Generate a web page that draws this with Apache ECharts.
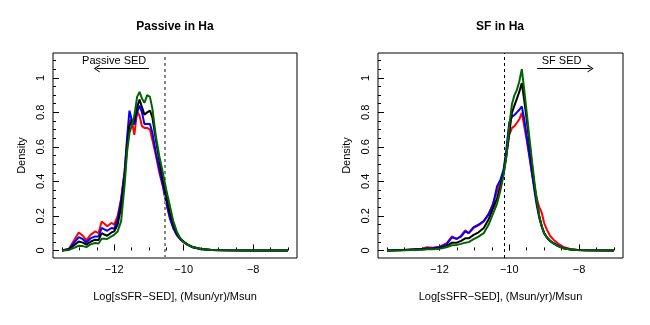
<!DOCTYPE html>
<html>
<head>
<meta charset="utf-8">
<script src="https://cdn.jsdelivr.net/npm/echarts@6/dist/echarts.min.js"></script>
<style>html,body{margin:0;padding:0;background:#fff}#c{width:650px;height:325px}</style>
</head>
<body>
<div id="c"></div>
<script>
// ---- data ----
const panelTitles = ['Passive in Ha', 'SF in Ha'];
const xAxisName = 'Log[sSFR\u2212SED], (Msun/yr)/Msun';
const yAxisName = 'Density';
const xMajorTicks = [-12, -10, -8];
const xMinorTicks = [-13.5,-13,-12.5,-12,-11.5,-11,-10.5,-10,-9.5,-9,-8.5,-8,-7.5,-7];
const yMajorTicks = [0, 0.2, 0.4, 0.6, 0.8, 1];
const yMinorTicks = [0,0.05,0.1,0.15,0.2,0.25,0.3,0.35,0.4,0.45,0.5,0.55,0.6,0.65,0.7,0.75,0.8,0.85,0.9,0.95,1,1.05,1.1];

const passiveX = [-13.5,-13.3,-13.15,-13.02,-12.9,-12.8,-12.68,-12.55,-12.45,-12.36,-12.28,-12.2,-12.08,-12.0,
  -11.9,-11.8,-11.7,-11.63,-11.56,-11.5,-11.42,-11.34,-11.27,-11.2,-11.13,-11.05,-10.97,-10.9,
  -10.8,-10.7,-10.6,-10.5,-10.4,-10.3,-10.2,-10.1,-10.0,-9.9,-9.75,-9.5,-9.2,-8.8,-8.0,-7.0];
const passiveRed = [0,0.01,0.06,0.104,0.085,0.058,0.09,0.11,0.1,0.168,0.155,0.14,0.159,0.15,
  0.2,0.3,0.46,0.62,0.75,0.76,0.67,0.805,0.78,0.72,0.71,0.71,0.7,0.64,
  0.55,0.45,0.37,0.27,0.19,0.13,0.09,0.065,0.048,0.035,0.02,0.009,0.003,0.001,0,0];
const passiveBlue = [0,0.008,0.045,0.077,0.065,0.046,0.07,0.081,0.08,0.13,0.122,0.114,0.13,0.126,
  0.18,0.29,0.45,0.65,0.81,0.76,0.73,0.8,0.84,0.8,0.733,0.733,0.733,0.68,
  0.565,0.47,0.38,0.28,0.19,0.13,0.09,0.065,0.05,0.035,0.018,0.007,0.002,0.001,0,0];
const passiveBlack = [0,0.005,0.03,0.052,0.045,0.033,0.05,0.062,0.06,0.1,0.092,0.085,0.104,0.11,
  0.15,0.25,0.42,0.6,0.72,0.75,0.75,0.83,0.874,0.83,0.787,0.8,0.81,0.77,
  0.64,0.52,0.41,0.31,0.22,0.15,0.1,0.07,0.05,0.035,0.02,0.008,0.002,0.001,0,0];
const passiveGreen = [0,0.003,0.015,0.027,0.025,0.019,0.035,0.043,0.04,0.068,0.067,0.066,0.081,0.09,
  0.11,0.17,0.38,0.57,0.68,0.72,0.78,0.89,0.919,0.88,0.855,0.9,0.89,0.82,
  0.66,0.545,0.45,0.35,0.26,0.17,0.11,0.07,0.048,0.035,0.02,0.008,0.002,0.001,0,0];

const sfX = [-13.5,-13.0,-12.5,-12.35,-12.2,-12.0,-11.8,-11.64,-11.5,-11.38,
  -11.26,-11.16,-11.02,-10.88,-10.73,-10.59,-10.47,-10.35,-10.25,-10.16,
  -10.08,-10.0,-9.92,-9.85,-9.78,-9.71,-9.64,-9.57,-9.5,-9.42,
  -9.35,-9.28,-9.21,-9.14,-9.07,-9.0,-8.92,-8.83,-8.73,-8.6,
  -8.45,-8.25,-8.05,-7.8,-7.0];
const sfRed = [0,0.003,0.01,0.019,0.015,0.022,0.04,0.081,0.066,0.085,
  0.116,0.1,0.13,0.145,0.168,0.21,0.27,0.34,0.39,0.46,
  0.56,0.67,0.71,0.72,0.74,0.76,0.797,0.72,0.64,0.54,
  0.45,0.37,0.3,0.25,0.22,0.16,0.12,0.085,0.062,0.04,
  0.02,0.008,0.003,0.001,0];
const sfBlue = [0,0.002,0.008,0.012,0.012,0.018,0.035,0.075,0.068,0.08,
  0.11,0.1,0.135,0.15,0.17,0.21,0.26,0.37,0.41,0.47,
  0.59,0.74,0.775,0.785,0.8,0.815,0.835,0.76,0.66,0.55,
  0.45,0.35,0.26,0.19,0.14,0.1,0.075,0.055,0.043,0.028,
  0.014,0.006,0.002,0.001,0];
const sfBlack = [0,0.002,0.006,0.008,0.008,0.012,0.025,0.045,0.045,0.055,
  0.07,0.07,0.09,0.105,0.13,0.18,0.24,0.3,0.37,0.45,
  0.55,0.68,0.8,0.84,0.88,0.92,0.97,0.87,0.76,0.62,
  0.5,0.38,0.28,0.2,0.14,0.1,0.075,0.055,0.04,0.025,
  0.012,0.005,0.002,0.001,0];
const sfGreen = [0,0.001,0.004,0.006,0.006,0.009,0.018,0.03,0.032,0.038,
  0.045,0.048,0.065,0.08,0.1,0.15,0.21,0.27,0.35,0.44,
  0.55,0.72,0.85,0.9,0.93,0.98,1.05,0.93,0.8,0.65,
  0.52,0.4,0.29,0.2,0.14,0.1,0.075,0.055,0.04,0.025,
  0.012,0.005,0.002,0.001,0];

const passiveCut = -10.55;
const sfCut = -10.15;
const passiveArrow = { text: 'Passive SED', textAt: [-12, 1.1], from: [-11.0, 1.054], to: [-12.5, 1.054] };
const sfArrow = { text: 'SF SED', textAt: [-8.5, 1.1], from: [-9.2, 1.054], to: [-7.67, 1.054] };

// ---- chart ----
const FONT = "'Liberation Sans', Arial, Helvetica, sans-serif";
const colors = ['#ff0000', '#0000ff', '#000000', '#006400'];
const chevron = 'path://M0,10 L5,0 L10,10 L8.6,10 L5,2.8 L1.4,10 Z';
const xMin = -13.76, xMax = -6.74, yMin = -0.044, yMax = 1.144;

function fmtX(v) { return (v < 0 ? '\u2212' : '') + Math.abs(v); }
function fmtY(v) { return String(Math.round(v * 10) / 10); }

const grids = [
  { left: 53, top: 53, width: 244, height: 205 },
  { left: 378, top: 53, width: 245, height: 205 }
].map(g => Object.assign(g, { show: true, borderColor: '#000', borderWidth: 1, backgroundColor: 'transparent' }));

const xAxes = [], yAxes = [];
[0, 1].forEach(gi => {
  xAxes.push({
    gridIndex: gi, type: 'value', min: xMin, max: xMax, position: 'bottom',
    axisLine: { show: false }, splitLine: { show: false },
    axisTick: { show: true, inside: true, length: 6, customValues: xMajorTicks, lineStyle: { color: '#000', width: 1 } },
    axisLabel: { show: true, customValues: xMajorTicks, formatter: fmtX, margin: 6, color: '#000', fontSize: 11, fontFamily: FONT },
    name: xAxisName, nameLocation: 'middle', nameGap: 33,
    nameTextStyle: { color: '#000', fontSize: 11, fontFamily: FONT }
  });
  xAxes.push({
    gridIndex: gi, type: 'value', min: xMin, max: xMax, position: 'bottom',
    axisLine: { show: false }, splitLine: { show: false },
    axisTick: { show: true, inside: true, length: 3, customValues: xMinorTicks, lineStyle: { color: '#000', width: 1 } },
    axisLabel: { show: false }
  });
  yAxes.push({
    gridIndex: gi, type: 'value', min: yMin, max: yMax, position: 'left',
    axisLine: { show: false }, splitLine: { show: false },
    axisTick: { show: true, inside: true, length: 6, customValues: yMajorTicks, lineStyle: { color: '#000', width: 1 } },
    axisLabel: { show: true, customValues: yMajorTicks, formatter: fmtY, rotate: 90, margin: 7, color: '#000', fontSize: 11, fontFamily: FONT },
    name: yAxisName, nameLocation: 'middle', nameGap: 26,
    nameTextStyle: { color: '#000', fontSize: 11, fontFamily: FONT }
  });
  yAxes.push({
    gridIndex: gi, type: 'value', min: yMin, max: yMax, position: 'left',
    axisLine: { show: false }, splitLine: { show: false },
    axisTick: { show: true, inside: true, length: 3, customValues: yMinorTicks, lineStyle: { color: '#000', width: 1 } },
    axisLabel: { show: false }
  });
});

function pairs(xs, ys) { return xs.map((x, i) => [x, ys[i]]); }

function panelSeries(gi, xs, ysList, cut, cutStyle, arrow) {
  const out = ysList.map((ys, k) => ({
    type: 'line', xAxisIndex: gi * 2, yAxisIndex: gi * 2,
    data: pairs(xs, ys), showSymbol: false, symbol: 'none', smooth: false,
    lineStyle: { color: colors[k], width: 2 }, itemStyle: { color: colors[k] },
    emphasis: { disabled: true }, silent: true, z: 3 + k
  }));
  // vertical cut line
  out[0].markLine = {
    silent: true, animation: false, label: { show: false },
    symbol: ['none', 'none'],
    lineStyle: cutStyle,
    data: [{ xAxis: cut }]
  };
  // annotation arrow + text (attached to a second series so its symbols are separate)
  out[1].markLine = {
    silent: true, animation: false, label: { show: false },
    symbol: ['none', chevron], symbolSize: [8, 6],
    lineStyle: { color: '#000', width: 1, type: 'solid' },
    data: [[{ coord: arrow.from }, { coord: arrow.to }]]
  };
  out[1].markPoint = {
    silent: true, animation: false, symbol: 'circle', symbolSize: 0,
    label: { show: true, position: 'inside', formatter: arrow.text, color: '#000', fontSize: 11, fontFamily: FONT },
    data: [{ coord: arrow.textAt }]
  };
  return out;
}

const series = [].concat(
  panelSeries(0, passiveX, [passiveRed, passiveBlue, passiveBlack, passiveGreen], passiveCut,
    { color: '#888', width: 2, type: [3, 3] }, passiveArrow),
  panelSeries(1, sfX, [sfRed, sfBlue, sfBlack, sfGreen], sfCut,
    { color: '#000', width: 1, type: [3, 3] }, sfArrow)
);

const chart = echarts.init(document.getElementById('c'), null, { renderer: 'canvas' });
chart.setOption({
  animation: false,
  backgroundColor: '#fff',
  title: [
    { text: panelTitles[0], left: 175, top: 21, textAlign: 'center', padding: 0,
      textStyle: { fontSize: 12, fontWeight: 'bold', color: '#000', fontFamily: FONT } },
    { text: panelTitles[1], left: 500, top: 21, textAlign: 'center', padding: 0,
      textStyle: { fontSize: 12, fontWeight: 'bold', color: '#000', fontFamily: FONT } }
  ],
  grid: grids,
  xAxis: xAxes,
  yAxis: yAxes,
  series: series
});
</script>
</body>
</html>
